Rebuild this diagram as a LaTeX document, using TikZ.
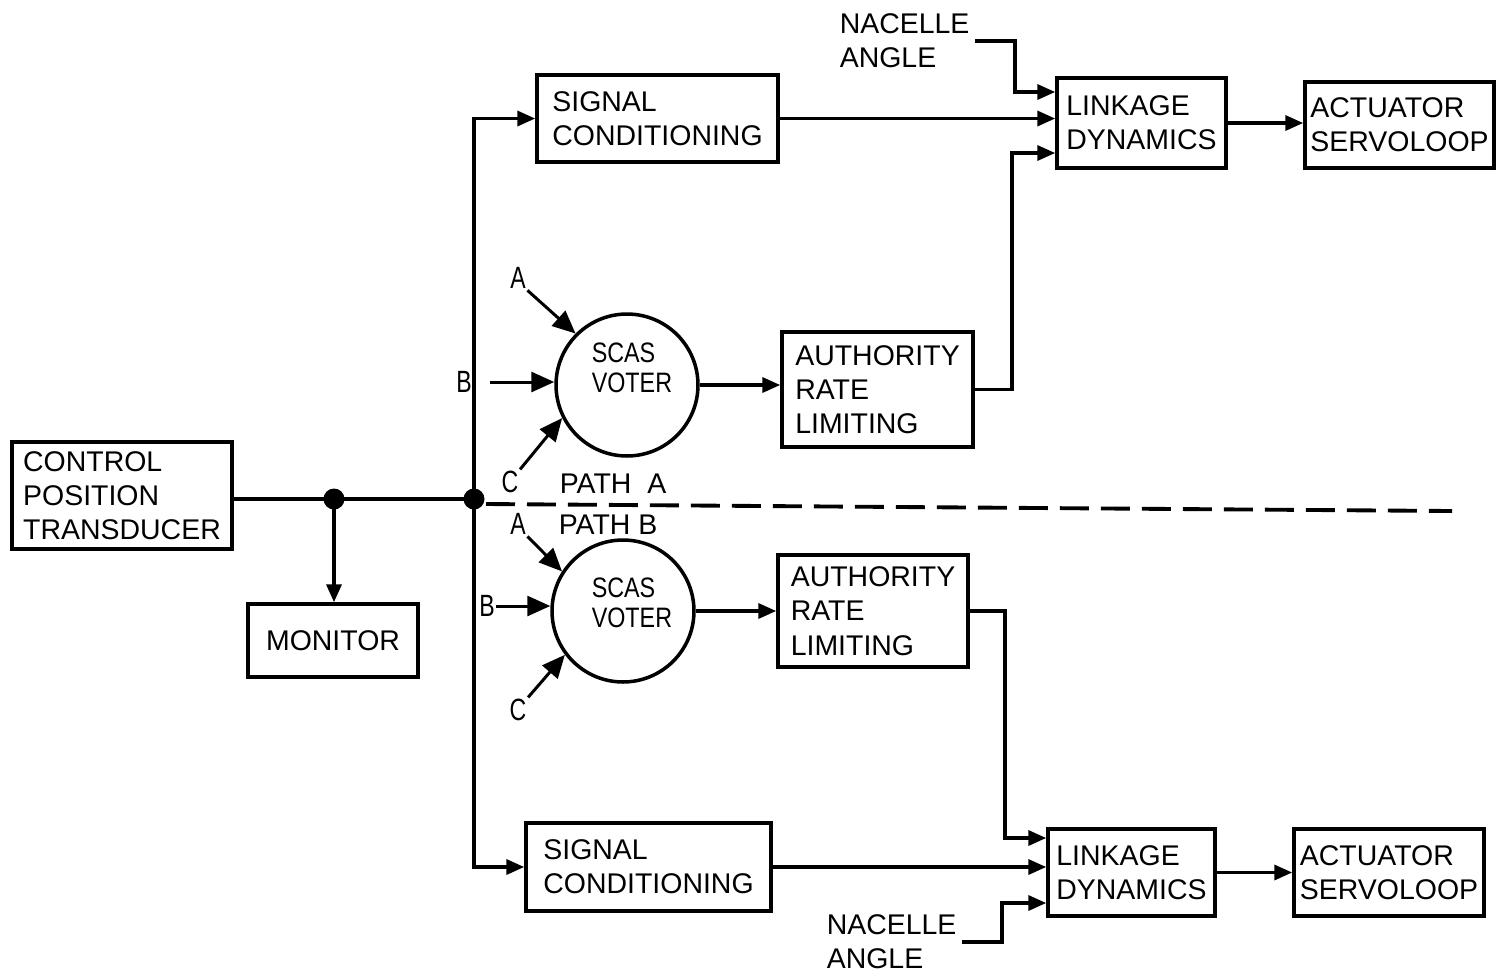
\documentclass[tikz,border=0pt]{standalone}
\usepackage{fontspec}
\setmainfont{Liberation Sans}
\newfontfamily\narrowfont[FakeStretch=0.83]{Liberation Sans}
\newfontfamily\tallfont[FakeStretch=0.75]{Liberation Sans}
\usetikzlibrary{arrows.meta}

\begin{document}
\begin{tikzpicture}[x=0.02cm,y=-0.02cm,
  line width=2pt,
  blk/.style={draw, rectangle, align=left, inner sep=0pt,
    font=\fontsize{16.2pt}{19.5pt}\selectfont},
  voter/.style={draw, circle, minimum size=2.84cm, inner sep=0pt},
  vtext/.style={inner sep=0pt, align=left, anchor=west,
    font=\narrowfont\fontsize{16pt}{17pt}\selectfont},
  lbl/.style={inner sep=0pt, font=\fontsize{16.2pt}{19.5pt}\selectfont},
  inlbl/.style={inner sep=0pt, font=\tallfont\fontsize{17.5pt}{18pt}\selectfont},
  arr/.style={-{Triangle[length=0.36cm,width=0.3cm]}},
  bigarr/.style={-{Triangle[length=0.46cm,width=0.4cm]}, line width=1.7pt},
  dot/.style={circle, fill, inner sep=0pt, minimum size=0.42cm},
  pathline/.style={dash pattern=on 0.58cm off 0.24cm, line width=2.2pt},
]
\useasboundingbox (0,0) rectangle (1498,975);

% ---- blocks ----
\node[blk, minimum width=4.4cm,  minimum height=2.14cm] (trans) at (122,495.5) {CONTROL\\POSITION\\TRANSDUCER};
\node[blk, minimum width=3.4cm,  minimum height=1.46cm] (mon)   at (333,640.5) {MONITOR};

\node[blk, minimum width=4.82cm, minimum height=1.74cm] (sc1)  at (657.5,118.5) {SIGNAL\\CONDITIONING};
\node[blk, minimum width=3.38cm, minimum height=1.8cm]  (ld1)  at (1141.5,123) {LINKAGE\\DYNAMICS};
\node[blk, minimum width=3.78cm, minimum height=1.72cm] (act1) at (1399.5,125) {ACTUATOR\\SERVOLOOP};
\node[blk, minimum width=3.82cm, minimum height=2.3cm]  (ar1)  at (877.5,389.5) {AUTHORITY\\RATE\\LIMITING};

\node[blk, minimum width=3.8cm,  minimum height=2.24cm] (ar2)  at (873,611) {AUTHORITY\\RATE\\LIMITING};
\node[blk, minimum width=4.9cm,  minimum height=1.76cm] (sc2)  at (648.5,867) {SIGNAL\\CONDITIONING};
\node[blk, minimum width=3.34cm, minimum height=1.74cm] (ld2)  at (1131.5,872.5) {LINKAGE\\DYNAMICS};
\node[blk, minimum width=3.8cm,  minimum height=1.74cm] (act2) at (1389,872.5) {ACTUATOR\\SERVOLOOP};

% ---- voters ----
\node[voter] (v1) at (627,385) {};
\node[vtext] (v1t) at (590,368) {SCAS\\VOTER};
\node[voter] (v2) at (623,611) {};
\node[vtext] (v2t) at (590,603) {SCAS\\VOTER};

% ---- labels ----
\node[lbl, align=left, anchor=north west] (nac1) at (838,12) {NACELLE\\ANGLE};
\node[lbl, align=left, anchor=north west] (nac2) at (825,913) {NACELLE\\ANGLE};
\node[lbl, anchor=west] (pa) at (558,484) {PATH\ \ A};
\node[lbl, anchor=west] (pb) at (557,525) {PATH B};

\node[inlbl] (a1) at (518,278) {A};
\node[inlbl] (b1) at (464,382) {B};
\node[inlbl] (c1) at (510,482) {C};
\node[inlbl] (a2) at (518,524) {A};
\node[inlbl] (b2) at (487,606) {B};
\node[inlbl] (c2) at (518,710) {C};

% ---- helper points ----
\coordinate (j1) at (334,499);
\coordinate (j2) at (474,499);
\coordinate (bs1) at (490,382);
\coordinate (nb1) at (1015,92);
\coordinate (rb1) at (1012,153);
\coordinate (rb2) at (1005,838);
\coordinate (nb2) at (1002,903);
\coordinate (dl) at (486,504);
\coordinate (dr) at (1452,511);

% ---- main signal path ----
\draw (trans.east |- j1) -- (j1) -- (j2);
\draw[arr] (j1) -- (j1 |- mon.north);
\draw[arr] (j2) |- (sc1.west);
\draw[arr] (j2) |- (sc2.west);

% ---- path A ----
\draw[bigarr] (a1.south east) -- (v1.135);
\draw[bigarr] (bs1) -- (bs1 -| v1.west);
\draw[bigarr] (c1.north east) -- (v1.207);
\draw[arr] (v1.east) -- (v1.east -| ar1.west);
\draw[arr] (ar1.east) -| (rb1) -- (rb1 -| ld1.west);
\draw[arr] (sc1.east) -- (sc1.east -| ld1.west);
\draw[arr] ([xshift=0.08cm]nac1.east) -| (nb1) -- (nb1 -| ld1.west);
\draw[arr] (ld1.east) -- (ld1.east -| act1.west);

% ---- path B ----
\draw[bigarr] (a2.south east) -- (v2.147);
\draw[bigarr] (b2.east) -- (b2.east -| v2.west);
\draw[bigarr] (c2.north east) -- (v2.217);
\draw[arr] (v2.east) -- (v2.east -| ar2.west);
\draw[arr] (ar2.east) -| (rb2) -- (rb2 -| ld2.west);
\draw[arr] (sc2.east) -- (sc2.east -| ld2.west);
\draw[arr] ([xshift=0.08cm]nac2.east) -| (nb2) -- (nb2 -| ld2.west);
\draw[arr] (ld2.east) -- (ld2.east -| act2.west);

% ---- separation between the two paths ----
\draw[pathline] (dl) -- (dr);

% ---- junction dots ----
\node[dot] at (j1) {};
\node[dot] at (j2) {};
\end{tikzpicture}
\end{document}
